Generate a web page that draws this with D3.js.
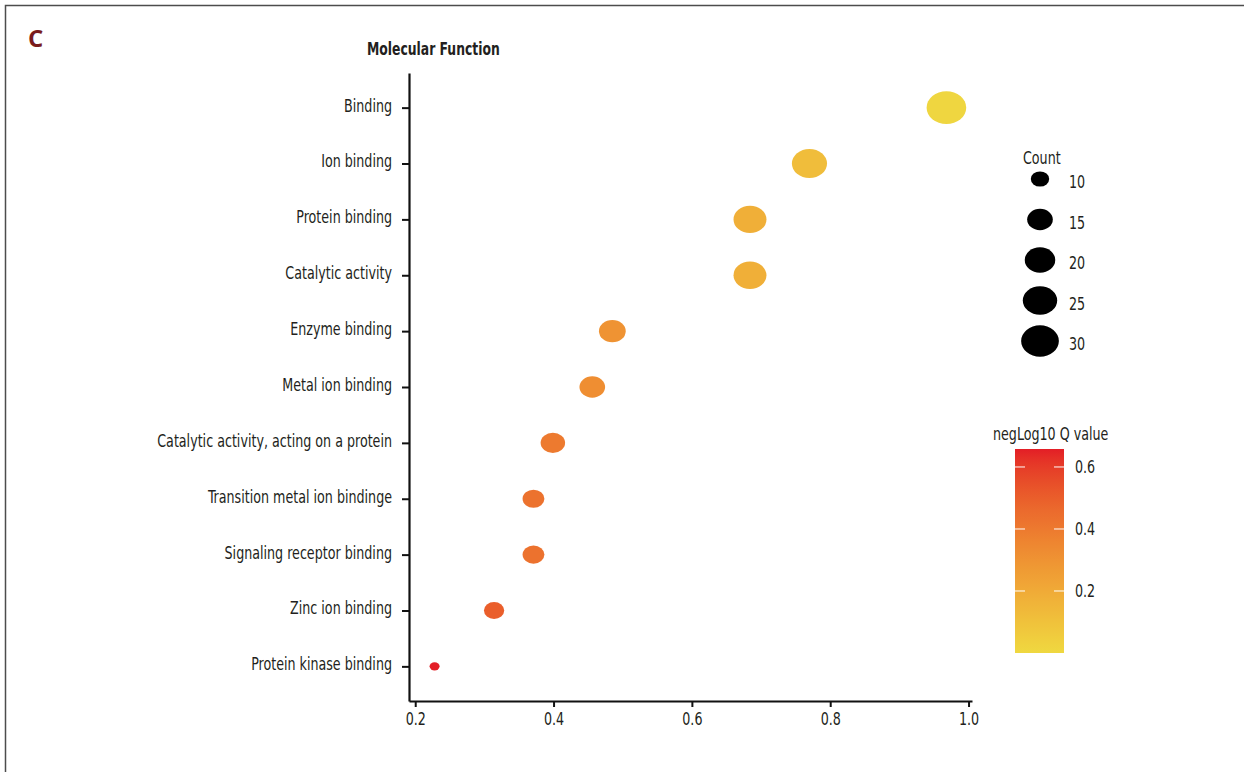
<!DOCTYPE html>
<html>
<head>
<meta charset="utf-8">
<script src="https://cdn.jsdelivr.net/npm/d3@7"></script>
<style>
  html, body { margin: 0; padding: 0; background: #fff; }
  svg text { font-family: "DejaVu Sans Condensed", "DejaVu Sans", sans-serif; fill: #231f20; }
</style>
</head>
<body>
<svg id="chart" width="1244" height="772"></svg>
<script>
// GO enrichment: Molecular Function terms
const terms = [
  "Binding",
  "Ion binding",
  "Protein binding",
  "Catalytic activity",
  "Enzyme binding",
  "Metal ion binding",
  "Catalytic activity, acting on a protein",
  "Transition metal ion bindinge",
  "Signaling receptor binding",
  "Zinc ion binding",
  "Protein kinase binding"
];
const ratios = [0.968, 0.770, 0.684, 0.684, 0.485, 0.456, 0.399, 0.371, 0.371, 0.314, 0.228];
const counts = [33, 26, 23, 23, 16, 15, 14, 12, 12, 11, 8];
const negLogQ = [0.01, 0.12, 0.18, 0.18, 0.30, 0.32, 0.40, 0.43, 0.43, 0.50, 0.658];

const countBreaks = [10, 15, 20, 25, 30];
const colorTicks = [0.2, 0.4, 0.6];
const xTicks = [0.2, 0.4, 0.6, 0.8, 1.0];

const svg = d3.select("#chart");

// narrow the glyphs horizontally around the text anchor point
const NARROW = 0.83;
function condense(sel, s = NARROW) {
  sel.each(function () {
    const t = d3.select(this);
    const x = +t.attr("x") || 0, y = +t.attr("y") || 0;
    t.attr("x", 0).attr("y", 0).attr("transform", `translate(${x},${y}) scale(${s},1)`);
  });
}

// panel frame (left and top edges)
svg.append("path")
  .attr("d", "M5.5,772 L5.5,5.5 L1244,5.5")
  .attr("fill", "none").attr("stroke", "#4d4d4d").attr("stroke-width", 1.5);

// panel letter
svg.append("text").attr("x", 28).attr("y", 47)
  .style("font-family", "'Open Sans', 'DejaVu Sans', sans-serif")
  .style("font-weight", "700").style("font-size", "24px")
  .style("fill", "#7a1c1c").text("C");

// title
svg.append("text").attr("x", 367).attr("y", 55)
  .style("font-weight", "700").style("font-size", "17px")
  .text("Molecular Function").call(condense, 0.81);

// scales
const xMin = d3.min(ratios), xMax = d3.max(ratios), xPad = (xMax - xMin) * 0.05;
const x = d3.scaleLinear().domain([xMin - xPad, xMax + xPad]).range([409, 972]);
const y = d3.scalePoint().domain(terms).range([73, 701]).padding(0.62);

const cMin = 8, cMax = 33;
const sizeT = d3.scaleLinear().domain([cMin, cMax]).range([0, 1]).clamp(true);
const diam = d3.scaleLinear().domain([0, 1]).range([10, 39.6]);
const rx = c => diam(Math.sqrt(sizeT(c))) / 2;
const aspect = 0.83;

const qMax = 0.658;
const color = d3.scaleLinear().domain([0, qMax]).range(["#efd840", "#e31e26"]).interpolate(d3.interpolateLab);

// axes
const axisColor = "#111";
const xAxis = svg.append("g").attr("transform", "translate(0,701)")
  .call(d3.axisBottom(x).tickValues(xTicks).tickFormat(d3.format(".1f")).tickSize(6).tickSizeOuter(0));
const yAxis = svg.append("g").attr("transform", "translate(409,0)")
  .call(d3.axisLeft(y).tickSize(7).tickSizeOuter(0).tickPadding(10));

[xAxis, yAxis].forEach(g => {
  g.select(".domain").attr("stroke", axisColor).attr("stroke-width", 2.2);
  g.selectAll(".tick line").attr("stroke", axisColor).attr("stroke-width", 2);
  g.selectAll(".tick text").style("font-size", "17px").attr("fill", "#231f20");
});
xAxis.selectAll(".tick text").attr("dy", "0.95em").attr("y", 8);
xAxis.selectAll(".tick text").call(condense);
yAxis.selectAll(".tick text").attr("dy", "0.2em").call(condense);

// points
const data = terms.map((t, i) => ({ term: t, ratio: ratios[i], count: counts[i], q: negLogQ[i] }));
svg.append("g").selectAll("ellipse").data(data).join("ellipse")
  .attr("cx", d => x(d.ratio))
  .attr("cy", d => y(d.term))
  .attr("rx", d => rx(d.count))
  .attr("ry", d => rx(d.count) * aspect)
  .attr("fill", d => color(d.q));

// size legend
const sl = svg.append("g");
sl.append("text").attr("x", 1023).attr("y", 164).style("font-size", "17px").text("Count").call(condense);
const slY = d3.scalePoint().domain(countBreaks).range([179, 341]);
sl.selectAll("ellipse").data(countBreaks).join("ellipse")
  .attr("cx", 1040).attr("cy", d => slY(d))
  .attr("rx", d => rx(d)).attr("ry", d => rx(d) * aspect)
  .attr("fill", "#000");
sl.selectAll("text.lab").data(countBreaks).join("text").attr("class", "lab")
  .attr("x", 1069).attr("y", d => slY(d) + 9)
  .style("font-size", "17px").text(d => d).call(condense);

// colour bar legend
const cb = svg.append("g");
cb.append("text").attr("x", 993).attr("y", 440).style("font-size", "17px").text("negLog10 Q value").call(condense);
const barX = 1015, barW = 49, barTop = 449, barBot = 653;
const cy = d3.scaleLinear().domain([0, qMax]).range([barBot, barTop]);
const defs = svg.append("defs");
const grad = defs.append("linearGradient").attr("id", "qgrad")
  .attr("x1", 0).attr("y1", 1).attr("x2", 0).attr("y2", 0);
d3.range(0, 1.0001, 0.05).forEach(t => {
  grad.append("stop").attr("offset", t).attr("stop-color", color(t * qMax));
});
cb.append("rect").attr("x", barX).attr("y", barTop).attr("width", barW).attr("height", barBot - barTop)
  .attr("fill", "url(#qgrad)");
colorTicks.forEach(v => {
  const yy = cy(v);
  cb.append("line").attr("x1", barX).attr("x2", barX + 10).attr("y1", yy).attr("y2", yy)
    .attr("stroke", "#fff").attr("stroke-width", 1);
  cb.append("line").attr("x1", barX + barW - 10).attr("x2", barX + barW).attr("y1", yy).attr("y2", yy)
    .attr("stroke", "#fff").attr("stroke-width", 1);
  cb.append("text").attr("x", 1075).attr("y", yy + 6).style("font-size", "17px")
    .text(d3.format(".1f")(v)).call(condense);
});
</script>
</body>
</html>
